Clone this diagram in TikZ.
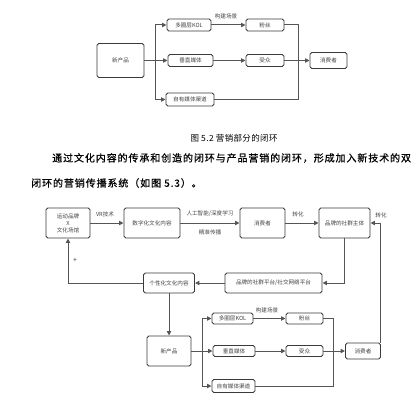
\documentclass[tikz,border=0pt]{standalone}
\usepackage{fontspec}
\setmainfont{Noto Sans CJK SC}
\newfontfamily\parafont[LetterSpace=9,FakeBold=0.6]{Noto Sans CJK SC}
\newfontfamily\capfont[LetterSpace=4]{Noto Sans CJK SC}
\usetikzlibrary{arrows.meta}
\definecolor{boxc}{HTML}{3A3A3A}
\definecolor{linec}{HTML}{555555}
\definecolor{txtc}{HTML}{444444}
\tikzset{
  bx/.style={draw=boxc, line width=0.9pt, rounded corners=1.8pt, fill=white,
    inner sep=0pt, align=center, text=txtc, font=\fontsize{5.6}{7}\selectfont},
  conn/.style={draw=linec, line width=1pt},
  arr/.style={conn, -{Triangle[length=4.5pt,width=4.2pt]}},
  lbl/.style={text=txtc, font=\fontsize{5.6}{7}\selectfont, inner sep=0pt}
}
\begin{document}
\begin{tikzpicture}[x=1pt,y=-1pt]
\useasboundingbox (0,0) rectangle (420,401);
% ---------------- Figure 5.2 ----------------
\node[bx, minimum width=47pt, minimum height=34pt] (np1) at (120.5,60.5) {新产品};
\node[bx, minimum width=44pt, minimum height=12pt] (kol1) at (189,25) {多圈层KOL};
\node[bx, minimum width=45pt, minimum height=12pt] (cz1) at (190.5,60.5) {垂直媒体};
\node[bx, minimum width=48pt, minimum height=13pt] (zy1) at (190,99.5) {自有媒体渠道};
\node[bx, minimum width=38pt, minimum height=12pt] (fs1) at (265,25) {粉丝};
\node[bx, minimum width=38pt, minimum height=12pt] (sz1) at (265,60.5) {受众};
\node[bx, minimum width=37pt, minimum height=16pt] (xf1) at (328.5,60.5) {消费者};
\coordinate (br1) at (155,60.5);
\coordinate (mg1) at (298,60.5);
\draw[arr] (np1.east) -- (cz1.west);
\draw[arr] (br1) |- (kol1.west);
\draw[arr] (br1) |- (zy1.west);
\draw[arr] (kol1.east) -- (fs1.west);
\node[lbl] (l1) at (226,16) {构建场景};
\draw[arr] (cz1.east) -- (sz1.west);
\draw[arr] (sz1.east) -- (xf1.west);
\draw[conn] (fs1.east) -| (mg1);
\draw[conn] (zy1.east) -| (mg1);
% caption and paragraph
\node[inner sep=0pt, font=\capfont\fontsize{8.5}{10}\selectfont, text=black] (cap) at (234,138) {图 5.2 营销部分的闭环};
\node[inner sep=0pt, anchor=west, font=\parafont\fontsize{10}{12}\selectfont, text=black] (p1) at (52,158) {通过文化内容的传承和创造的闭环与产品营销的闭环，形成加入新技术的双};
\node[inner sep=0pt, anchor=west, font=\parafont\fontsize{10}{12}\selectfont, text=black] (p2) at (31,183) {闭环的营销传播系统（如图 5.3）。};
% ---------------- Figure 5.3 ----------------
\node[bx, minimum width=44pt, minimum height=30pt] (a) at (68,223) {运动品牌\\X\\文化场馆};
\node[bx, minimum width=56pt, minimum height=30pt] (b) at (152,223) {数字化文化内容};
\node[bx, minimum width=45pt, minimum height=30pt] (c) at (262.5,223) {消费者};
\node[bx, minimum width=51pt, minimum height=30pt] (d) at (344.5,223) {品牌的社群主体};
\node[bx, minimum width=97pt, minimum height=20pt] (e) at (273.5,283) {品牌的社群平台/社交网络平台};
\node[bx, minimum width=51pt, minimum height=20pt] (f) at (169,283) {个性化文化内容};
\node[bx, minimum width=44pt, minimum height=30pt] (g) at (169,351) {新产品};
\node[bx, minimum width=41pt, minimum height=11pt] (kol2) at (232.5,318.5) {多圈层KOL};
\node[bx, minimum width=42pt, minimum height=11pt] (cz2) at (234,351) {垂直媒体};
\node[bx, minimum width=43pt, minimum height=13pt] (zy2) at (233.5,386) {自有媒体渠道};
\node[bx, minimum width=37pt, minimum height=11pt] (fs2) at (304.5,318.5) {粉丝};
\node[bx, minimum width=37pt, minimum height=11pt] (sz2) at (304.5,351) {受众};
\node[bx, minimum width=35pt, minimum height=16pt] (xf2) at (363,351) {消费者};
\coordinate (br2) at (202,351);
\coordinate (mg2) at (333,351);
\draw[arr] (a.east) -- (b.west);
\node[lbl] (l2) at (105,214) {VR技术};
\draw[arr] (b.east) -- (c.west);
\node[lbl] (l3) at (210,214) {人工智能/深度学习};
\node[lbl] (l4) at (210,232) {精准传播};
\draw[arr] (c.east) -- (d.west);
\node[lbl] (l5) at (298,214) {转化};
\draw[arr] (xf2.north east) |- (d.east);
\node[lbl] (l6) at (381,215) {转化};
\draw[arr] (d.south) |- (e.east);
\draw[arr] (e.west) -- (f.east);
\draw[arr] (f.west) -| (a.south);
\node[lbl, font=\fontsize{7}{8}\selectfont] (l7) at (75,260) {+};
\draw[arr] (f.south) -- (g.north);
\draw[arr] (g.east) -- (cz2.west);
\draw[arr] (br2) |- (kol2.west);
\draw[arr] (br2) |- (zy2.west);
\draw[arr] (kol2.east) -- (fs2.west);
\node[lbl] (l8) at (267,310) {构建场景};
\draw[arr] (cz2.east) -- (sz2.west);
\draw[arr] (sz2.east) -- (xf2.west);
\draw[conn] (fs2.east) -| (mg2);
\draw[conn] (zy2.east) -| (mg2);
\end{tikzpicture}
\end{document}
